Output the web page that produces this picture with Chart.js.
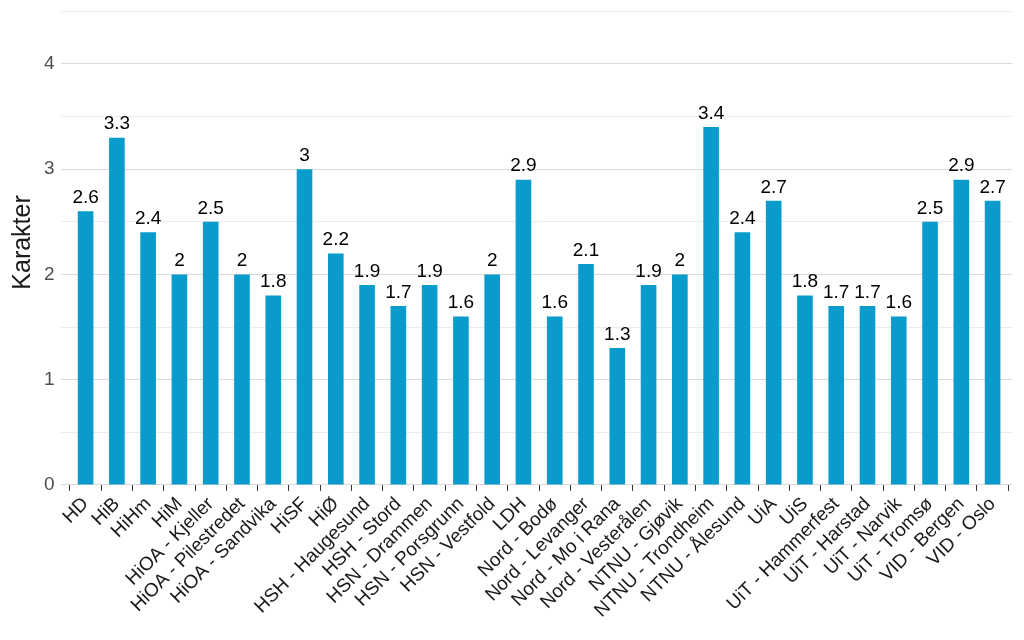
<!DOCTYPE html>
<html>
<head>
<meta charset="utf-8">
<script src="https://cdn.jsdelivr.net/npm/chart.js@4.4.1/dist/chart.umd.min.js"></script>
<style>
html,body{margin:0;padding:0;background:#fff;}
#wrap{width:1024px;height:640px;position:relative;}
</style>
</head>
<body>
<div id="wrap"><canvas id="c" width="1024" height="640"></canvas></div>
<script>
const categories = ["HD","HiB","HiHm","HiM","HiOA - Kjeller","HiOA - Pilestredet","HiOA - Sandvika","HiSF","HiØ","HSH - Haugesund","HSH - Stord","HSN - Drammen","HSN - Porsgrunn","HSN - Vestfold","LDH","Nord - Bodø","Nord - Levanger","Nord - Mo i Rana","Nord - Vesterålen","NTNU - Gjøvik","NTNU - Trondheim","NTNU - Ålesund","UiA","UiS","UiT - Hammerfest","UiT - Harstad","UiT - Narvik","UiT - Tromsø","VID - Bergen","VID - Oslo"];
const karakter = [2.6,3.3,2.4,2,2.5,2,1.8,3,2.2,1.9,1.7,1.9,1.6,2,2.9,1.6,2.1,1.3,1.9,2,3.4,2.4,2.7,1.8,1.7,1.7,1.6,2.5,2.9,2.7];
const yTicks = [0,0.5,1,1.5,2,2.5,3,3.5,4,4.5];
const yTitle = "Karakter";

const FONT = "'Liberation Sans', Arial, sans-serif";

const valueLabels = {
  id: 'valueLabels',
  afterDatasetsDraw(chart) {
    const ctx = chart.ctx;
    const meta = chart.getDatasetMeta(0);
    ctx.save();
    ctx.font = "19px " + FONT;
    ctx.fillStyle = "#000";
    ctx.textAlign = "center";
    ctx.textBaseline = "bottom";
    meta.data.forEach((bar, i) => {
      ctx.fillText(String(karakter[i]), bar.x, bar.y - 4);
    });
    ctx.restore();
  }
};

new Chart(document.getElementById('c'), {
  type: 'bar',
  data: {
    datasets: [{
      data: karakter.map((v, i) => ({x: i, y: v})),
      backgroundColor: '#0a9bcd',
      barPercentage: 0.5,
      categoryPercentage: 1.0
    }]
  },
  options: {
    responsive: false,
    animation: false,
    layout: {padding: {left: 8, right: 12, top: 0, bottom: 16}},
    plugins: {legend: {display: false}, tooltip: {enabled: false}},
    scales: {
      x: {
        type: 'linear',
        min: -0.8,
        max: 29.62,
        offset: false,
        afterBuildTicks: (axis) => { axis.ticks = categories.map((c, i) => ({value: i})); },
        grid: {drawOnChartArea: false, drawTicks: true, tickLength: 6, color: '#333333', lineWidth: 1},
        border: {display: false},
        ticks: {
          autoSkip: false, minRotation: 45, maxRotation: 45,
          color: '#1a1a1a', font: {family: FONT, size: 19}, padding: 2,
          callback: (v) => categories[v]
        }
      },
      y: {
        min: 0,
        max: 4.608,
        afterBuildTicks: (axis) => { axis.ticks = yTicks.map(v => ({value: v})); },
        afterFit: (s) => { s.paddingTop = 0; },
        grid: {
          drawTicks: false,
          color: (ctx) => (ctx.tick && Number.isInteger(ctx.tick.value)) ? '#dadada' : '#ececec',
          lineWidth: 1
        },
        border: {display: false},
        ticks: {
          color: '#4d4d4d', font: {family: FONT, size: 19}, padding: 6,
          callback: (v) => Number.isInteger(v) ? String(v) : ''
        },
        title: {display: true, text: yTitle, color: '#1a1a1a', font: {family: FONT, size: 25}, padding: {top: 0, bottom: 0}}
      }
    }
  },
  plugins: [valueLabels]
});
</script>
</body>
</html>
